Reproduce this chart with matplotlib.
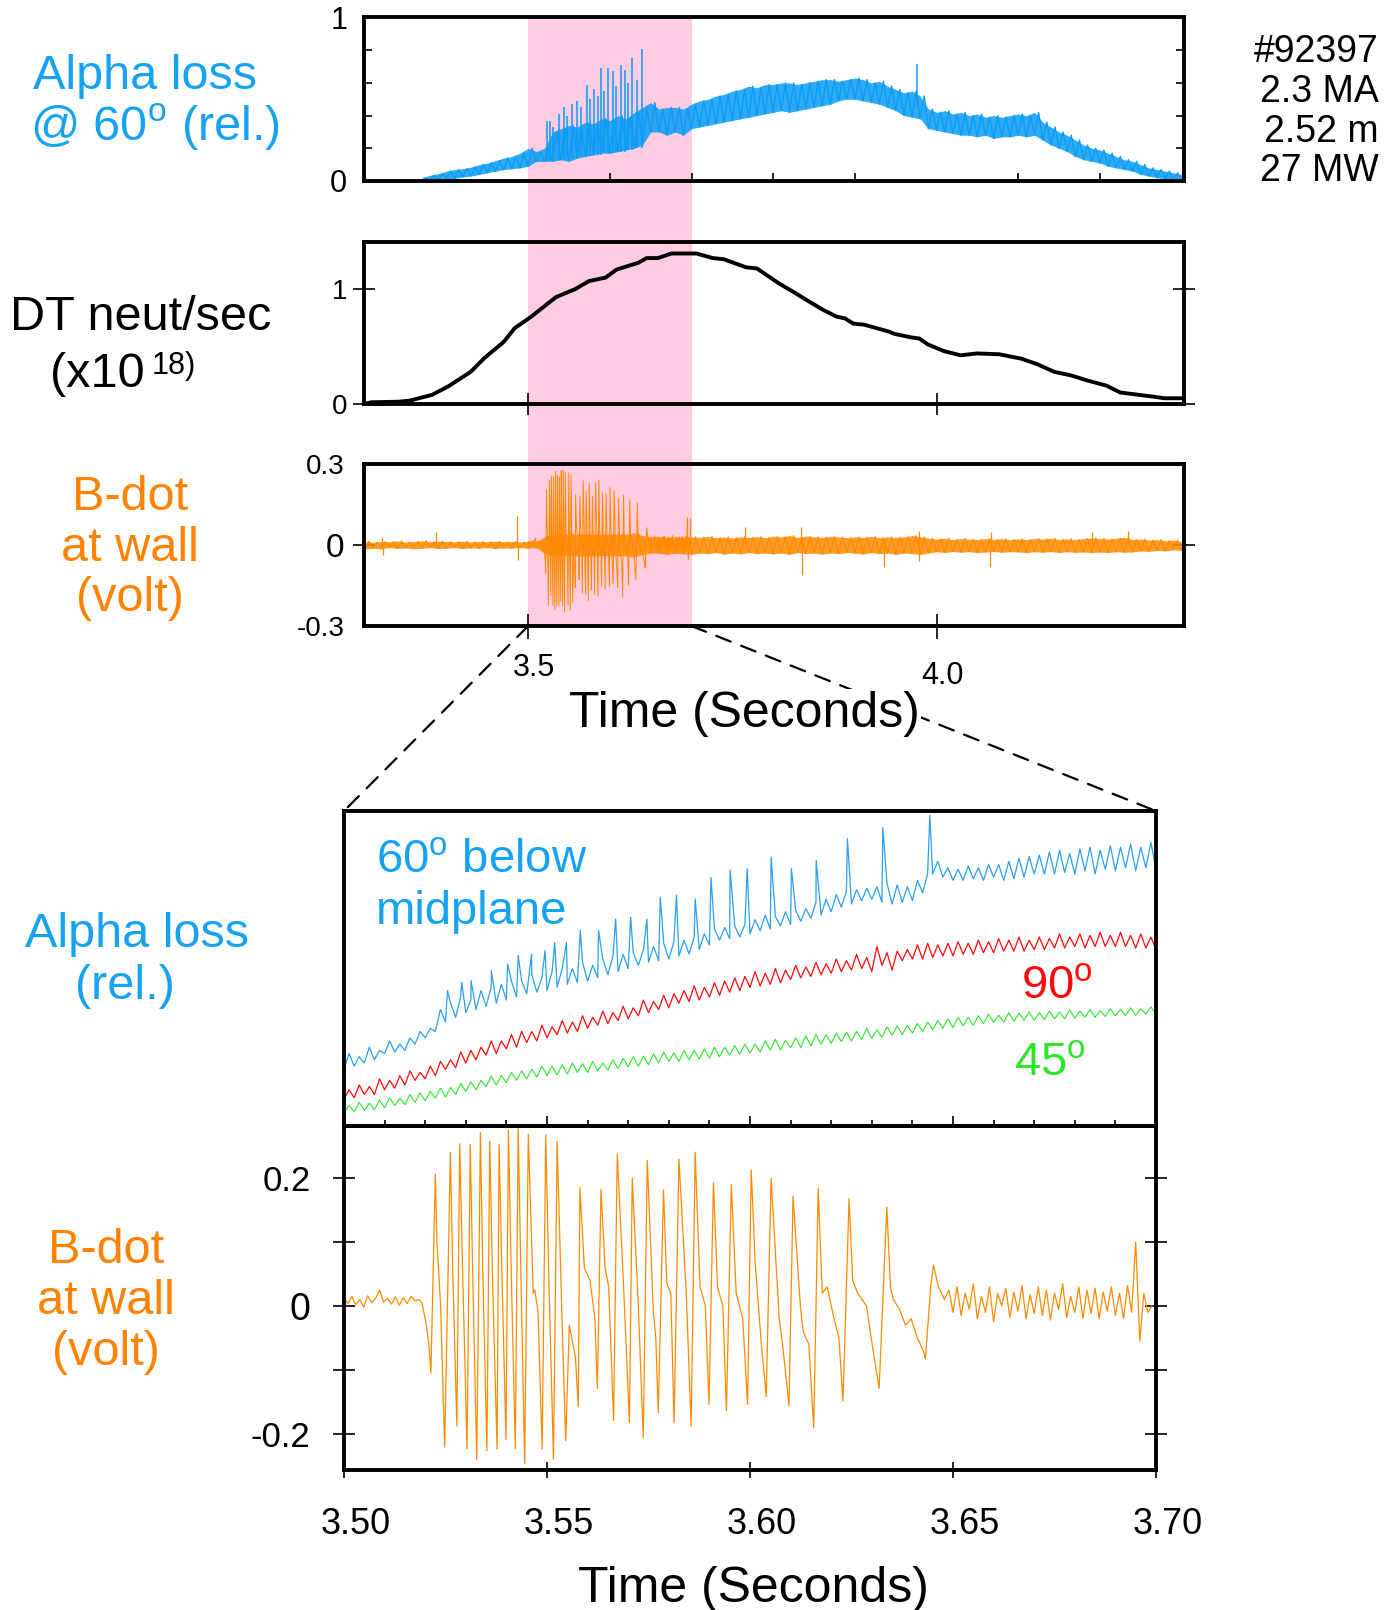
import numpy as np
import matplotlib
matplotlib.use("Agg")
import matplotlib.pyplot as plt
from matplotlib.patches import Rectangle, ConnectionPatch
from matplotlib import transforms

plt.rcParams['font.family'] = ['Liberation Sans', 'DejaVu Sans']
plt.rcParams['mathtext.fontset'] = 'custom'
plt.rcParams['mathtext.rm'] = 'Liberation Sans'

# ---------------- data ----------------
# top panel: alpha loss @60 deg (relative); lower / upper edge of the noisy trace every 0.01 s (3.37-4.30)
ta_lo = [0.0, 0.005, 0.01, 0.015, 0.015, 0.025, 0.03, 0.04, 0.05, 0.06,
         0.07, 0.075, 0.08, 0.09, 0.12, 0.12, 0.12, 0.13, 0.12, 0.14,
         0.15, 0.16, 0.17, 0.17, 0.18, 0.19, 0.20, 0.22, 0.30, 0.30,
         0.28, 0.30, 0.28, 0.32, 0.33, 0.34, 0.35, 0.36, 0.37, 0.38,
         0.39, 0.40, 0.41, 0.42, 0.43, 0.42, 0.43, 0.44, 0.45, 0.46,
         0.47, 0.49, 0.50, 0.50, 0.49, 0.48, 0.47, 0.45, 0.43, 0.40,
         0.39, 0.38, 0.32, 0.31, 0.30, 0.29, 0.28, 0.28, 0.27, 0.28,
         0.26, 0.27, 0.27, 0.28, 0.27, 0.28, 0.25, 0.22, 0.20, 0.18,
         0.15, 0.13, 0.12, 0.11, 0.09, 0.08, 0.07, 0.06, 0.04, 0.03,
         0.02, 0.015, 0.01, 0.005]
ta_hi = [0.02, 0.035, 0.045, 0.06, 0.07, 0.075, 0.085, 0.10, 0.11, 0.125,
         0.14, 0.15, 0.17, 0.20, 0.18, 0.20, 0.30, 0.32, 0.34, 0.33,
         0.36, 0.35, 0.38, 0.37, 0.40, 0.38, 0.42, 0.45, 0.48, 0.44,
         0.45, 0.45, 0.44, 0.47, 0.49, 0.50, 0.52, 0.53, 0.55, 0.56,
         0.58, 0.57, 0.59, 0.59, 0.60, 0.60, 0.59, 0.60, 0.61, 0.62,
         0.62, 0.61, 0.62, 0.63, 0.62, 0.60, 0.61, 0.58, 0.56, 0.54,
         0.55, 0.52, 0.44, 0.42, 0.43, 0.41, 0.42, 0.40, 0.41, 0.39,
         0.40, 0.39, 0.40, 0.41, 0.40, 0.42, 0.36, 0.33, 0.30, 0.28,
         0.25, 0.22, 0.20, 0.19, 0.17, 0.15, 0.13, 0.12, 0.10, 0.08,
         0.07, 0.06, 0.05, 0.04]
ta_spk_t = [3.5226, 3.527, 3.531, 3.538, 3.5437, 3.548, 3.5538, 3.560, 3.565, 3.572,
            3.576, 3.580, 3.585, 3.5886, 3.593, 3.598, 3.6033, 3.608, 3.6134, 3.6188,
            3.622, 3.627, 3.633, 3.6388, 3.976]
ta_spk_v = [0.37, 0.37, 0.33, 0.41, 0.45, 0.40, 0.47, 0.49, 0.45, 0.59,
            0.50, 0.56, 0.52, 0.69, 0.55, 0.69, 0.67, 0.58, 0.71, 0.68,
            0.60, 0.75, 0.62, 0.81, 0.716]
ta_spk_base = [0.12, 0.12, 0.12, 0.13, 0.13, 0.14, 0.14, 0.14, 0.15, 0.15,
               0.15, 0.16, 0.16, 0.16, 0.17, 0.17, 0.17, 0.18, 0.18, 0.18,
               0.19, 0.19, 0.20, 0.20, 0.45]

# DT neutron rate (x1e18)
dt_t = [3.2981, 3.3082, 3.3419, 3.3554, 3.3824, 3.4026, 3.4296, 3.4464, 3.4700, 3.4835,
        3.5037, 3.5340, 3.5576, 3.5745, 3.5947, 3.6082, 3.6351, 3.6452, 3.6587, 3.6756,
        3.7059, 3.7261, 3.7396, 3.7666, 3.7800, 3.8070, 3.8272, 3.8474, 3.8609, 3.8778,
        3.8879, 3.8980, 3.9115, 3.9418, 3.9485, 3.9688, 3.9789, 3.9890, 4.0092, 4.0294,
        4.0496, 4.0766, 4.1036, 4.1238, 4.1440, 4.1642, 4.1844, 4.2080, 4.2249, 4.2384,
        4.2653, 4.2788, 4.3024]
dt_v = [0.0, 0.015, 0.02, 0.03, 0.08, 0.155, 0.28, 0.40, 0.54, 0.66,
        0.76, 0.93, 1.0, 1.07, 1.10, 1.17, 1.23, 1.27, 1.27, 1.31,
        1.31, 1.27, 1.26, 1.19, 1.18, 1.05, 0.965, 0.877, 0.82, 0.76,
        0.745, 0.70, 0.69, 0.63, 0.61, 0.58, 0.57, 0.52, 0.46, 0.424,
        0.44, 0.433, 0.395, 0.345, 0.28, 0.25, 0.205, 0.16, 0.10, 0.088,
        0.064, 0.05, 0.05]

# top B-dot (volt): lower / upper edge of the noise every 0.01 s (3.30-4.30) and isolated spikes
tb_lo = [-0.015, -0.012, -0.014, -0.01, -0.013, -0.011, -0.014, -0.012, -0.01, -0.013,
         -0.012, -0.01, -0.013, -0.011, -0.012, -0.01, -0.013, -0.011, -0.012, -0.01,
         -0.012, -0.01, -0.03, -0.04, -0.04, -0.04, -0.04, -0.04, -0.04, -0.04,
         -0.04, -0.04, -0.04, -0.045, -0.035, -0.03, -0.03, -0.035, -0.03, -0.032,
         -0.035, -0.03, -0.032, -0.028, -0.034, -0.03, -0.033, -0.028, -0.032, -0.03,
         -0.033, -0.03, -0.035, -0.028, -0.032, -0.03, -0.034, -0.03, -0.032, -0.028,
         -0.03, -0.034, -0.028, -0.032, -0.03, -0.035, -0.03, -0.032, -0.035, -0.03,
         -0.025, -0.028, -0.024, -0.027, -0.025, -0.028, -0.026, -0.024, -0.027, -0.025,
         -0.026, -0.028, -0.025, -0.027, -0.024, -0.028, -0.025, -0.027, -0.026, -0.028,
         -0.026, -0.028, -0.025, -0.027, -0.026, -0.022, -0.024, -0.02, -0.022, -0.018,
         -0.02]
tb_hi = [0.014, 0.01, 0.013, 0.012, 0.015, 0.011, 0.013, 0.016, 0.012, 0.014,
         0.013, 0.012, 0.014, 0.011, 0.013, 0.012, 0.014, 0.012, 0.013, 0.011,
         0.013, 0.012, 0.03, 0.04, 0.04, 0.04, 0.04, 0.04, 0.04, 0.04,
         0.04, 0.04, 0.04, 0.045, 0.035, 0.03, 0.032, 0.028, 0.03, 0.03,
         0.03, 0.028, 0.032, 0.027, 0.03, 0.026, 0.03, 0.028, 0.031, 0.027,
         0.032, 0.03, 0.035, 0.028, 0.033, 0.03, 0.028, 0.032, 0.03, 0.027,
         0.03, 0.028, 0.032, 0.027, 0.03, 0.028, 0.03, 0.035, 0.03, 0.025,
         0.022, 0.025, 0.02, 0.024, 0.022, 0.02, 0.024, 0.021, 0.023, 0.02,
         0.023, 0.02, 0.024, 0.022, 0.025, 0.021, 0.023, 0.02, 0.024, 0.026,
         0.024, 0.022, 0.025, 0.028, 0.02, 0.022, 0.018, 0.02, 0.016, 0.018,
         0.012]
tb_spk_t = [3.321, 3.322, 3.387, 3.486, 3.487, 3.643, 3.698, 3.765, 3.834, 3.835,
            3.936, 3.978, 3.979, 4.066, 4.067, 4.190, 4.234]
tb_spk_v = [0.03, -0.037, 0.05, 0.107, -0.056, -0.086, 0.10, 0.068, 0.065, -0.11,
            -0.08, 0.052, -0.06, -0.08, 0.05, 0.05, 0.052]

# zoomed B-dot (volt)
bd_pre_v = [0.012, 0.004, 0.015, 0.002, 0.010, -0.002, 0.016, 0.005, 0.012, 0.025,
            0.006, 0.012, 0.003, 0.014, 0.001, 0.013, 0.004, 0.015, 0.008, 0.010]
bd_burst_t = [3.5192, 3.5203, 3.5209, 3.5214, 3.5225, 3.5229, 3.5238, 3.5248, 3.5262, 3.5268,
              3.5278, 3.5285, 3.5292, 3.5303, 3.5311, 3.5317, 3.5327, 3.5336, 3.5342, 3.5352,
              3.5359, 3.5366, 3.5377, 3.5382, 3.5389, 3.5399, 3.5405, 3.5412, 3.5422, 3.5429,
              3.5436, 3.5445, 3.5454, 3.5466, 3.5470, 3.5478, 3.5488, 3.5497, 3.5505, 3.5516,
              3.5525, 3.5536, 3.5546, 3.5555, 3.5570, 3.5577, 3.5581, 3.5592, 3.5606, 3.5618,
              3.5624, 3.5633, 3.5643, 3.5652, 3.5664, 3.5673, 3.5688, 3.5703, 3.5710, 3.5725,
              3.5737, 3.5747, 3.5762, 3.5768, 3.5774, 3.5787, 3.5795, 3.5805, 3.5813, 3.5825,
              3.5843, 3.5855, 3.5865, 3.5877, 3.5890, 3.5899, 3.5910, 3.5920, 3.5933, 3.5942,
              3.5954, 3.5966, 3.5982, 3.5994, 3.6003, 3.6013, 3.6028, 3.6040, 3.6052, 3.6072,
              3.6080, 3.6087, 3.6096, 3.6106, 3.6124, 3.6131, 3.6145, 3.6157, 3.6168, 3.6178,
              3.6190, 3.6207, 3.6219, 3.6229, 3.6244, 3.6253, 3.6265, 3.6287, 3.6302, 3.6318,
              3.6337, 3.6346, 3.6353, 3.6368, 3.6383, 3.6397, 3.6412, 3.6427, 3.6432, 3.6445,
              3.6452, 3.6464, 3.6479]
bd_burst_v = [0.005, -0.03, -0.06, -0.105, 0.206, 0.10, 0.0, -0.221, 0.241, 0.05,
              -0.188, 0.254, 0.06, -0.224, 0.253, 0.05, -0.241, 0.272, 0.05, -0.227,
              0.258, 0.04, -0.224, 0.253, 0.05, -0.209, 0.275, 0.05, -0.224, 0.278,
              0.04, -0.247, 0.269, 0.02, 0.025, -0.01, -0.224, 0.268, 0.03, -0.24,
              0.258, 0.0, -0.211, -0.03, -0.08, -0.158, 0.186, 0.06, 0.04, -0.02,
              -0.129, 0.182, 0.06, 0.03, -0.179, 0.238, 0.04, -0.183, 0.20, 0.0,
              -0.206, 0.228, -0.01, -0.05, -0.167, 0.182, 0.035, 0.02, -0.183, 0.23,
              0.02, -0.189, 0.241, 0.03, 0.0, -0.154, 0.193, 0.03, 0.0, -0.164,
              0.19, 0.02, -0.02, -0.154, 0.213, 0.065, -0.06, -0.142, 0.20, -0.02,
              -0.06, -0.10, -0.156, 0.172, 0.0, -0.04, -0.06, -0.191, 0.185, 0.02,
              0.03, -0.02, -0.05, -0.149, 0.168, 0.04, 0.02, 0.0, -0.065, -0.129,
              0.155, 0.03, 0.01, -0.005, -0.03, -0.02, -0.05, -0.07, -0.083, 0.03,
              0.064, 0.03, 0.01]
bd_post_v = [0.025, -0.01, 0.03, -0.015, 0.02, -0.005, 0.035, -0.02, 0.015, -0.01,
             0.03, -0.025, 0.02, 0.0, 0.028, -0.018, 0.022, -0.008, 0.032, -0.02,
             0.018, -0.012, 0.03, -0.015, 0.025, -0.022, 0.02, -0.005, 0.035, -0.018,
             0.015, -0.01, 0.03, -0.02, 0.025, -0.012, 0.028, -0.02, 0.022, -0.008,
             0.03, -0.015, 0.02, -0.02, 0.032, -0.01, 0.10, -0.055, 0.02, -0.01,
             0.0]

# zoomed alpha loss (relative units), lower / upper edges of the noisy traces every 0.0025 s
a60_lo = [0.18, 0.19, 0.20, 0.21, 0.23, 0.235, 0.24, 0.26, 0.28, 0.30,
          0.33, 0.345, 0.36, 0.37, 0.38, 0.39, 0.40, 0.41, 0.42, 0.425,
          0.43, 0.44, 0.45, 0.455, 0.46, 0.47, 0.48, 0.49, 0.50, 0.51,
          0.52, 0.525, 0.53, 0.54, 0.546, 0.56, 0.575, 0.59, 0.595, 0.60,
          0.61, 0.62, 0.625, 0.635, 0.64, 0.65, 0.66, 0.67, 0.68, 0.695,
          0.705, 0.715, 0.72, 0.71, 0.705, 0.71, 0.716, 0.74, 0.80, 0.79,
          0.78, 0.78, 0.785, 0.78, 0.79, 0.78, 0.785, 0.79, 0.80, 0.80,
          0.80, 0.805, 0.80, 0.81, 0.80, 0.815, 0.81, 0.82, 0.81, 0.82,
          0.815]
a60_hi = [0.23, 0.22, 0.25, 0.24, 0.27, 0.26, 0.28, 0.30, 0.31, 0.37,
          0.39, 0.41, 0.40, 0.43, 0.44, 0.45, 0.46, 0.46, 0.48, 0.47,
          0.49, 0.50, 0.50, 0.52, 0.51, 0.53, 0.54, 0.545, 0.55, 0.56,
          0.57, 0.58, 0.585, 0.59, 0.60, 0.61, 0.625, 0.63, 0.635, 0.64,
          0.655, 0.67, 0.665, 0.68, 0.685, 0.69, 0.71, 0.72, 0.735, 0.745,
          0.75, 0.755, 0.76, 0.77, 0.765, 0.76, 0.78, 0.80, 0.84, 0.82,
          0.815, 0.825, 0.82, 0.83, 0.83, 0.84, 0.85, 0.855, 0.86, 0.87,
          0.875, 0.865, 0.88, 0.885, 0.875, 0.89, 0.885, 0.895, 0.885, 0.90,
          0.89]
a60_spk_t = [3.5255, 3.5290, 3.5313, 3.5363, 3.5403, 3.5429, 3.5462, 3.5495, 3.5519, 3.5548,
             3.5582, 3.5627, 3.5669, 3.5706, 3.5746, 3.5779, 3.5819, 3.5865, 3.5904, 3.5951,
             3.5993, 3.6052, 3.6102, 3.6163, 3.6240, 3.6327, 3.6443]
a60_spk_v = [0.43, 0.456, 0.461, 0.493, 0.514, 0.541, 0.546, 0.557, 0.583, 0.583,
             0.62, 0.62, 0.657, 0.663, 0.657, 0.726, 0.732, 0.721, 0.788, 0.813,
             0.817, 0.854, 0.817, 0.843, 0.912, 0.947, 0.986]
a90_lo = [0.085, 0.09, 0.10, 0.10, 0.115, 0.12, 0.13, 0.145, 0.15, 0.16,
          0.18, 0.185, 0.20, 0.21, 0.225, 0.23, 0.245, 0.25, 0.265, 0.27,
          0.28, 0.29, 0.295, 0.30, 0.31, 0.32, 0.325, 0.335, 0.34, 0.35,
          0.36, 0.37, 0.375, 0.39, 0.395, 0.40, 0.41, 0.415, 0.425, 0.43,
          0.44, 0.445, 0.45, 0.455, 0.465, 0.47, 0.475, 0.48, 0.485, 0.49,
          0.495, 0.50, 0.49, 0.51, 0.495, 0.525, 0.53, 0.53, 0.535, 0.54,
          0.54, 0.545, 0.545, 0.55, 0.55, 0.555, 0.555, 0.555, 0.56, 0.56,
          0.565, 0.565, 0.57, 0.565, 0.57, 0.57, 0.57, 0.57, 0.565, 0.565,
          0.56]
a90_hi = [0.115, 0.13, 0.125, 0.15, 0.145, 0.16, 0.175, 0.17, 0.19, 0.205,
          0.21, 0.235, 0.24, 0.25, 0.27, 0.27, 0.29, 0.30, 0.30, 0.32,
          0.315, 0.335, 0.33, 0.35, 0.345, 0.365, 0.36, 0.38, 0.375, 0.40,
          0.395, 0.415, 0.42, 0.43, 0.445, 0.44, 0.455, 0.46, 0.47, 0.475,
          0.49, 0.485, 0.50, 0.495, 0.51, 0.505, 0.52, 0.515, 0.53, 0.525,
          0.545, 0.535, 0.57, 0.55, 0.555, 0.56, 0.575, 0.58, 0.575, 0.58,
          0.585, 0.58, 0.59, 0.585, 0.595, 0.59, 0.60, 0.59, 0.60, 0.595,
          0.61, 0.60, 0.61, 0.605, 0.615, 0.605, 0.615, 0.605, 0.61, 0.60,
          0.605]
a45_lo = [0.04, 0.045, 0.05, 0.052, 0.058, 0.065, 0.068, 0.075, 0.08, 0.088,
          0.092, 0.10, 0.11, 0.115, 0.125, 0.13, 0.138, 0.145, 0.15, 0.155,
          0.16, 0.162, 0.165, 0.17, 0.17, 0.175, 0.178, 0.182, 0.188, 0.19,
          0.195, 0.2, 0.205, 0.205, 0.21, 0.212, 0.215, 0.22, 0.225, 0.228,
          0.232, 0.235, 0.24, 0.242, 0.248, 0.25, 0.255, 0.26, 0.262, 0.268,
          0.27, 0.275, 0.278, 0.282, 0.288, 0.29, 0.295, 0.30, 0.305, 0.31,
          0.312, 0.318, 0.32, 0.325, 0.328, 0.33, 0.332, 0.335, 0.335, 0.338,
          0.34, 0.34, 0.342, 0.345, 0.345, 0.348, 0.35, 0.35, 0.352, 0.355,
          0.355]
a45_hi = [0.065, 0.075, 0.072, 0.082, 0.09, 0.088, 0.10, 0.105, 0.11, 0.12,
          0.122, 0.135, 0.14, 0.145, 0.158, 0.16, 0.17, 0.175, 0.18, 0.19,
          0.19, 0.195, 0.2, 0.198, 0.205, 0.2, 0.21, 0.215, 0.22, 0.222,
          0.23, 0.235, 0.232, 0.24, 0.24, 0.245, 0.25, 0.25, 0.255, 0.26,
          0.26, 0.27, 0.275, 0.272, 0.28, 0.285, 0.29, 0.29, 0.295, 0.298,
          0.30, 0.31, 0.305, 0.315, 0.318, 0.32, 0.325, 0.33, 0.335, 0.34,
          0.345, 0.345, 0.35, 0.355, 0.352, 0.36, 0.358, 0.362, 0.36, 0.365,
          0.362, 0.368, 0.365, 0.37, 0.366, 0.372, 0.37, 0.375, 0.372, 0.378,
          0.38]

info_lines = ["#92397", "2.3 MA", "2.52 m", "27 MW"]
top_ticks = [3.5, 4.0]
top_ticklabels = ["3.5", "4.0"]
zoom_ticks = [3.50, 3.55, 3.60, 3.65, 3.70]
zoom_ticklabels = ["3.50", "3.55", "3.60", "3.65", "3.70"]

# ---------------- style ----------------
BLUE_TOP = '#0A9CF5'
BLUE_LBL = '#16A2F2'
BLUE_60 = '#2AA0EE'
RED = '#FF0A0A'
GREEN = '#2CE62C'
ORANGE = '#FF8A00'
ORANGE_LBL = '#FF8200'
PINK = '#FFCCE1'
SPW = 2.8

W, H = 1392, 1610
fig = plt.figure(figsize=(W / 100, H / 100), dpi=100)


def rect(l, t, r, b):
    return [l / W, 1 - b / H, (r - l) / W, (b - t) / H]


def zigzag(t, lo, hi):
    t = np.asarray(t, dtype=float)
    half = (t[1] - t[0]) / 2
    xs = np.column_stack([t, t + half]).ravel()[:-1]
    ys = np.column_stack([lo, hi]).ravel()[:-1]
    return xs, ys


ax1 = fig.add_axes(rect(364, 17.5, 1184, 181))
ax2 = fig.add_axes(rect(364, 242, 1184, 404))
ax3 = fig.add_axes(rect(364, 464, 1184, 626))
ax4 = fig.add_axes(rect(344, 811, 1156, 1126))
ax5 = fig.add_axes(rect(344, 1126, 1156, 1470))

for ax in (ax1, ax2, ax3, ax4, ax5):
    ax.set_facecolor('none')
    for s in ax.spines.values():
        s.set_linewidth(SPW)
        s.set_color('black')
    ax.tick_params(which='both', width=1.2, color='black', labelcolor='black')

for ax in (ax1, ax2, ax3):
    ax.set_xlim(3.299, 4.303)

# pink window across the three upper panels
tr = transforms.blended_transform_factory(ax1.transData, fig.transFigure)
fig.add_artist(Rectangle((3.5, 1 - 626 / H), 0.2, (626 - 17.5) / H, transform=tr,
                         facecolor=PINK, edgecolor='none', zorder=-5))

# ---- panel 1: alpha loss
grid_a = np.linspace(3.37, 4.30, len(ta_lo))
ax1.fill_between(grid_a, ta_lo, ta_hi, color=BLUE_TOP, lw=0, alpha=0.85, zorder=2)
xa, ya = zigzag(grid_a, ta_lo, ta_hi)
ax1.plot(xa, ya, color=BLUE_TOP, lw=1.0, zorder=2)
ax1.vlines(ta_spk_t, ta_spk_base, ta_spk_v, color=BLUE_TOP, lw=1.1, zorder=2)
ax1.set_ylim(0, 1)
ax1.set_yticks([0, 1], labels=['0', '1'])
ax1.set_yticks([0.2, 0.4, 0.6, 0.8], minor=True)
ax1.tick_params(axis='y', which='major', length=0, pad=12, labelsize=22)
ax1.tick_params(axis='y', which='minor', direction='in', length=6, left=True, right=True)
ax1.set_xticks([3.6, 3.7, 3.8, 3.9, 4.1, 4.2])
ax1.tick_params(axis='x', which='major', direction='in', length=6, labelbottom=False)

# ---- panel 2: DT neutrons
ax2.plot(dt_t, dt_v, color='black', lw=2.8, zorder=3)
ax2.set_ylim(0, 1.41)
ax2.set_yticks([0, 1], labels=['0', '1'])
ax2.tick_params(axis='y', direction='inout', length=16, left=True, right=True, pad=4, labelsize=20)
ax2.set_xticks(top_ticks)
ax2.tick_params(axis='x', direction='inout', length=16, labelbottom=False)

# ---- panel 3: B-dot
grid_b = np.linspace(3.30, 4.30, len(tb_lo))
ax3.fill_between(grid_b, tb_lo, tb_hi, color=ORANGE, lw=0, alpha=0.85, zorder=2)
xb, yb = zigzag(grid_b, tb_lo, tb_hi)
ax3.plot(xb, yb, color=ORANGE, lw=0.8, zorder=2)
ax3.vlines(tb_spk_t, 0, tb_spk_v, color=ORANGE, lw=0.9, zorder=2)
bd_pre_t = np.linspace(3.500, 3.5185, len(bd_pre_v))
bd_post_t = np.linspace(3.649, 3.699, len(bd_post_v))
bd_t = np.concatenate([bd_pre_t, bd_burst_t, bd_post_t])
bd_v = np.concatenate([bd_pre_v, bd_burst_v, bd_post_v])
ax3.plot(bd_t, bd_v, color=ORANGE, lw=0.7, zorder=3)
ax3.set_ylim(-0.3, 0.3)
ax3.set_yticks([0], labels=['0'])
ax3.set_yticks([-0.3, 0.3], labels=['-0.3', '0.3'], minor=True)
ax3.tick_params(axis='y', which='major', direction='inout', length=16, left=True, right=True,
                pad=6, labelsize=24)
ax3.tick_params(axis='y', which='minor', length=0, pad=14, labelsize=20)
ax3.set_xticks(top_ticks)
ax3.tick_params(axis='x', direction='inout', length=18, labelbottom=False)
for xt, s, dy in zip(top_ticks, top_ticklabels, (-42, -50)):
    trx = transforms.offset_copy(ax3.get_xaxis_transform(), fig=fig, x=6, y=dy, units='dots')
    ax3.text(xt, 0, s, transform=trx, ha='center', va='center', fontsize=22, clip_on=False)

# ---- zoomed alpha loss
grid60 = np.linspace(3.5, 3.7, len(a60_lo))
x60, y60 = zigzag(grid60, a60_lo, a60_hi)
x60 = np.concatenate([x60, a60_spk_t])
y60 = np.concatenate([y60, a60_spk_v])
order = np.argsort(x60, kind='stable')
ax4.plot(x60[order], y60[order], color=BLUE_60, lw=0.9)
x90, y90 = zigzag(np.linspace(3.5, 3.7, len(a90_lo)), a90_lo, a90_hi)
ax4.plot(x90, y90, color=RED, lw=0.9)
x45, y45 = zigzag(np.linspace(3.5, 3.7, len(a45_lo)), a45_lo, a45_hi)
ax4.plot(x45, y45, color=GREEN, lw=0.8)
ax4.set_xlim(3.5, 3.7)
ax4.set_ylim(0, 1)
ax4.set_yticks([])
ax4.set_xticks(zoom_ticks)
ax4.set_xticks(np.round(np.arange(3.5, 3.7001, 0.01), 2), minor=True)
ax4.tick_params(axis='x', which='major', direction='in', length=7, labelbottom=False)
ax4.tick_params(axis='x', which='minor', direction='in', length=4)

# ---- zoomed B-dot
ax5.plot(bd_t, bd_v, color=ORANGE, lw=0.9)
ax5.set_xlim(3.5, 3.7)
ax5.set_ylim(-0.257, 0.282)
ax5.set_xticks(zoom_ticks)
ax5.tick_params(axis='x', direction='inout', length=12, labelbottom=False)
trz = transforms.offset_copy(ax5.get_xaxis_transform(), fig=fig, x=12, y=-55, units='dots')
for xt, s in zip(zoom_ticks, zoom_ticklabels):
    ax5.text(xt, 0, s, transform=trz, ha='center', va='center', fontsize=26, clip_on=False)
ax5.set_yticks([0], labels=['0'])
ax5.set_yticks([-0.2, -0.1, 0.1, 0.2], labels=['-0.2', '', '', '0.2'], minor=True)
ax5.tick_params(axis='y', which='both', direction='inout', length=16, left=True, right=True)
ax5.tick_params(axis='y', which='major', pad=16, labelsize=27)
ax5.tick_params(axis='y', which='minor', pad=16, labelsize=25)

# dashed connector lines
for x in (3.5, 3.7):
    cp = ConnectionPatch(xyA=(x, 0), coordsA=ax3.get_xaxis_transform(),
                         xyB=(x, 1), coordsB=ax4.get_xaxis_transform(),
                         color='black', lw=1.6, linestyle=(0, (7, 5)), zorder=1)
    fig.add_artist(cp)

# ---- texts (positions in pixels, baseline anchored)
def ftext(x, y, s, **kw):
    kw.setdefault('va', 'baseline')
    return fig.text(x / W, 1 - y / H, s, **kw)


o = r'$^{\mathregular{o}}$'
LBL = 35
ftext(145, 89, 'Alpha loss', ha='center', fontsize=LBL, color=BLUE_LBL)
ftext(155, 141, '@ 60' + o + ' (rel.)', ha='center', fontsize=LBL, color=BLUE_LBL)
ftext(10, 330, 'DT neut/sec', ha='left', fontsize=LBL, color='black')
ftext(50, 387, '(x10', ha='left', fontsize=LBL, color='black')
ftext(152, 374, '18)', ha='left', fontsize=22, color='black')
for yb_, s in zip((510, 561, 611), ('B-dot', 'at wall', '(volt)')):
    ftext(130, yb_, s, ha='center', fontsize=LBL, color=ORANGE_LBL)
ftext(137, 947, 'Alpha loss', ha='center', fontsize=LBL, color=BLUE_LBL)
ftext(125, 999, '(rel.)', ha='center', fontsize=LBL, color=BLUE_LBL)
for yb_, s in zip((1263, 1314, 1365), ('B-dot', 'at wall', '(volt)')):
    ftext(106, yb_, s, ha='center', fontsize=LBL, color=ORANGE_LBL)
for yb_, s in zip((62, 102, 142, 181), info_lines):
    ftext(1379, yb_, s, ha='right', fontsize=27, color='black')
ftext(744, 727, 'Time (Seconds)', ha='center', fontsize=36, color='black',
      zorder=5, bbox=dict(facecolor='white', edgecolor='none', pad=1))
ftext(753, 1602, 'Time (Seconds)', ha='center', fontsize=36, color='black')
ftext(376, 872, '60' + o + ' below', ha='left', fontsize=34, color=BLUE_LBL)
ftext(376, 924, 'midplane', ha='left', fontsize=34, color=BLUE_LBL)
ftext(1021, 998, '90' + o, ha='left', fontsize=34, color=RED)
ftext(1014, 1075, '45' + o, ha='left', fontsize=34, color=GREEN)

fig.savefig('out.png', dpi=100)
